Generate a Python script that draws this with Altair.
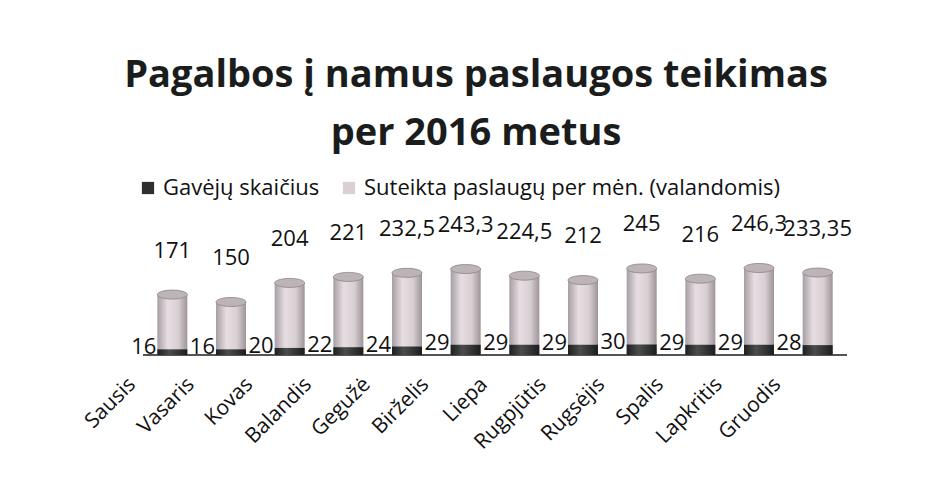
import altair as alt
import pandas as pd

months = ["Sausis", "Vasaris", "Kovas", "Balandis", "Gegužė", "Birželis",
          "Liepa", "Rugpjūtis", "Rugsėjis", "Spalis", "Lapkritis", "Gruodis"]
recipients = [16, 16, 20, 22, 24, 29, 29, 29, 30, 29, 29, 28]
hours = [171, 150, 204, 221, 232.5, 243.3, 224.5, 212, 245, 216, 246.3, 233.35]

s1 = "Gavėjų skaičius"
s2 = "Suteikta paslaugų per mėn. (valandomis)"

def fmt(v):
    s = ("%g" % v)
    return s.replace(".", ",")

df = pd.DataFrame({
    "month": months,
    "recipients": recipients,
    "hours": hours,
    "hours_lbl": [fmt(v) for v in hours],
    "rec_lbl": [fmt(v) for v in recipients],
    "zero": [0] * len(months),
})
leg = pd.DataFrame({"series": [s1, s2]})

FONT = "Open Sans"
xenc = alt.X("month:N", sort=months,
             scale=alt.Scale(paddingInner=0.48, paddingOuter=0.24),
             axis=alt.Axis(title=None, labelAngle=-45, labelAlign="right",
                           labelBaseline="middle", labelFontSize=21,
                           labelFont=FONT, labelColor="#111",
                           labelOffset=-40, labelPadding=26,
                           domain=False, ticks=False))
yscale = alt.Scale(domain=[0, 300])

light_grad = alt.LinearGradient(gradient="linear", x1=0, x2=1, y1=0, y2=0,
    stops=[alt.GradientStop(offset=0, color="#a69ea2"),
           alt.GradientStop(offset=0.35, color="#e6dee2"),
           alt.GradientStop(offset=0.7, color="#d8cfd3"),
           alt.GradientStop(offset=1, color="#9c9498")])
dark_grad = alt.LinearGradient(gradient="linear", x1=0, x2=1, y1=0, y2=0,
    stops=[alt.GradientStop(offset=0, color="#1e201f"),
           alt.GradientStop(offset=0.4, color="#4a4d4b"),
           alt.GradientStop(offset=1, color="#1c1e1d")])

ellipse = "M-1,0 A1,0.3 0 1,0 1,0 A1,0.3 0 1,0 -1,0 Z"

base = alt.Chart(df)

floor = base.mark_rule(color="#555", strokeWidth=1.5).encode(
    y=alt.Y("zero:Q", scale=yscale, axis=None))

light = base.mark_bar(size=30, color=light_grad).encode(
    x=xenc, y=alt.Y("hours:Q", scale=yscale, axis=None))
cap = base.mark_point(shape=ellipse, size=900, filled=True, color="#bdb4b8",
                      stroke="#8d8589", strokeWidth=0.8, opacity=1).encode(
    x=xenc, y=alt.Y("hours:Q", scale=yscale))
dark = base.mark_bar(size=30, color=dark_grad).encode(
    x=xenc, y=alt.Y("recipients:Q", scale=yscale))

hlbl = base.mark_text(fontSize=22, font=FONT, color="#111", dy=-44).encode(
    x=xenc, y=alt.Y("hours:Q", scale=yscale), text="hours_lbl:N")
rlbl = base.mark_text(fontSize=22, font=FONT, color="#111", align="right",
                      dx=-16, dy=-2, baseline="middle").encode(
    x=xenc, y=alt.Y("recipients:Q", scale=yscale), text="rec_lbl:N")

legend_layer = alt.Chart(leg).mark_point(opacity=0, filled=True).encode(
    color=alt.Color("series:N", sort=[s1, s2],
        scale=alt.Scale(domain=[s1, s2], range=["#2e302f", "#d9cfd4"]),
        legend=alt.Legend(title=None, orient="none", legendX=-6, legendY=-72,
                          direction="horizontal", symbolType="square",
                          symbolSize=150, symbolOpacity=1,
                          labelFontSize=22, labelFont=FONT, labelColor="#111",
                          columnPadding=18, labelLimit=600)))

chart = alt.layer(floor, light, dark, cap, hlbl, rlbl, legend_layer).properties(
    width=704, height=106,
    title=alt.TitleParams(["Pagalbos į namus paslaugos teikimas", "per 2016 metus"],
                          fontSize=38, font=FONT, fontWeight="bold",
                          color="#1a1d1c", lineHeight=58, anchor="middle",
                          dx=-19, offset=24),
    padding={"left": 135, "top": 241, "right": 97, "bottom": 121},
    autosize=alt.AutoSizeParams(type="none"),
    background="white",
).configure_view(stroke=None)

chart.save("out.html", embed_options={"renderer": "svg", "actions": False})
